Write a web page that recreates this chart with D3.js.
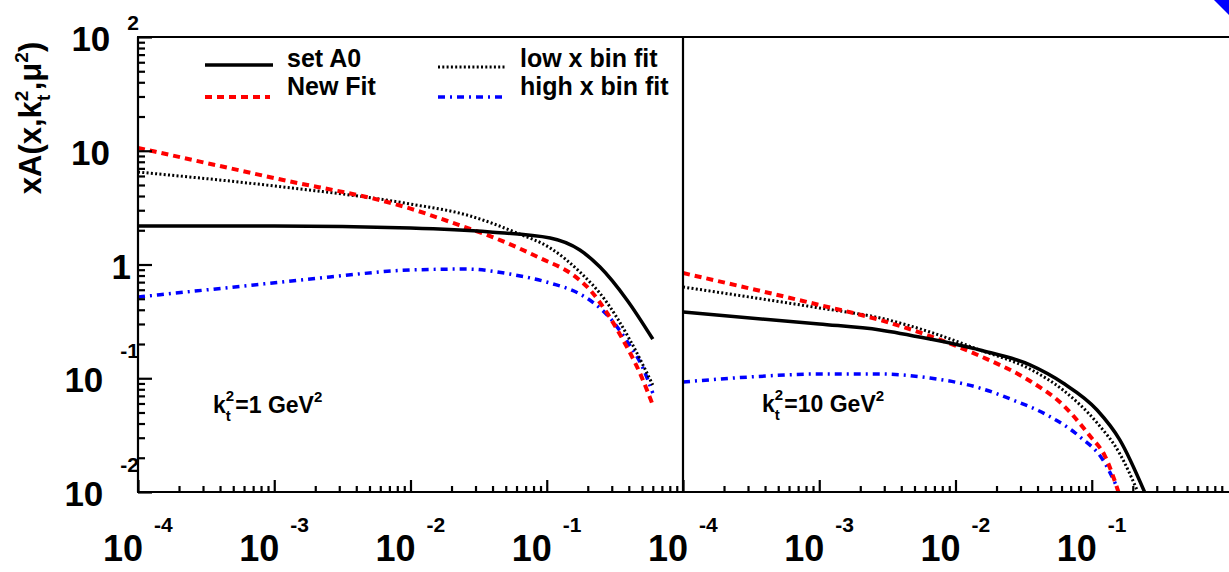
<!DOCTYPE html>
<html><head><meta charset="utf-8">
<script src="https://cdn.jsdelivr.net/npm/d3@7"></script>
<style>html,body{margin:0;padding:0;background:#fff;} svg{display:block;font-family:"Liberation Sans",Arial,Helvetica,sans-serif;}</style>
</head><body>
<svg id="chart" width="1229" height="572"></svg>
<script>
// ---------------- data ----------------
// panel k_t^2 = 1 GeV^2
const xA0_k1  = [1e-4, 1e-3, 1e-2, 0.0384, 0.106, 0.175, 0.246, 0.388, 0.6];
const yA0_k1  = [2.18, 2.18, 2.09, 1.93, 1.71, 1.34, 0.95, 0.488, 0.221];
const xNew_k1 = [1e-4, 1e-3, 1e-2, 0.0195, 0.0454, 0.0891, 0.156, 0.208, 0.277, 0.363, 0.483, 0.6];
const yNew_k1 = [10.6, 5.75, 3.1, 2.37, 1.64, 1.14, 0.809, 0.597, 0.375, 0.217, 0.111, 0.0582];
const xLow_k1 = [1e-4, 1e-3, 1e-2, 0.026, 0.0605, 0.1057, 0.175, 0.268, 0.408, 0.6];
const yLow_k1 = [6.5, 4.9, 3.4, 2.72, 1.89, 1.40, 0.859, 0.488, 0.217, 0.0873];
const xHigh_k1 = [1e-4, 8.26e-4, 2.56e-3, 1e-2, 0.026, 0.0537, 0.1057, 0.175, 0.226, 0.291, 0.388, 0.508, 0.6];
const yHigh_k1 = [0.518, 0.674, 0.777, 0.895, 0.912, 0.824, 0.687, 0.551, 0.450, 0.339, 0.212, 0.123, 0.0741];
// panel k_t^2 = 10 GeV^2
const xA0_k10  = [1e-4, 1e-3, 2.79e-3, 6.5e-3, 0.0151, 0.0352, 0.0615, 0.1094, 0.161, 0.246];
const yA0_k10  = [0.382, 0.300, 0.266, 0.221, 0.177, 0.131, 0.0908, 0.0526, 0.0286, 0.0098];
const xNew_k10 = [1e-4, 1e-3, 2.79e-3, 6.5e-3, 0.0151, 0.0352, 0.0615, 0.0971, 0.125, 0.158];
const yNew_k10 = [0.841, 0.441, 0.325, 0.235, 0.157, 0.0946, 0.0582, 0.0310, 0.0207, 0.0098];
const xLow_k10 = [1e-4, 1e-3, 2.79e-3, 6.5e-3, 0.0151, 0.0352, 0.0615, 0.1094, 0.161, 0.215];
const yLow_k10 = [0.634, 0.415, 0.339, 0.255, 0.177, 0.1205, 0.0788, 0.0405, 0.0216, 0.0104];
const xHigh_k10 = [1e-4, 3.1e-4, 1e-3, 2.79e-3, 6.5e-3, 0.0151, 0.0264, 0.047, 0.082, 0.121, 0.153];
const yHigh_k10 = [0.0927, 0.1026, 0.109, 0.109, 0.1005, 0.082, 0.0644, 0.0475, 0.0305, 0.0191, 0.0111];

const seriesNames = ["set A0", "New Fit", "low x bin fit", "high x bin fit"];
const panelLabels = ["=1 GeV", "=10 GeV"];
const xTickValues = [1e-4, 1e-3, 1e-2, 1e-1];
const xTickExps = ["-4", "-3", "-2", "-1"];
const yTickValues = [0.01, 0.1, 1, 10, 100];
const yTickBases = ["10", "10", "1", "10", "10"];
const yTickExps = ["-2", "-1", "", "", "2"];

// ---------------- layout ----------------
const svg = d3.select("#chart");
const yTop = 37, yBot = 492;
const yScale = d3.scaleLog().domain([0.01, 100]).range([yBot, yTop]);
const xLeft = d3.scaleLog().domain([1e-4, 1]).range([138, 683]);
const xRight = d3.scaleLog().domain([1e-4, 1]).range([683, 1228]);

const styles = [
  {color: "#000", width: 3.5, dash: null},
  {color: "#ff0000", width: 4, dash: "7,5"},
  {color: "#000", width: 3, dash: "2,2.3"},
  {color: "#0000ff", width: 3.5, dash: "7,5,2,5"}
];

function minorTicks(lo, hi) {
  const out = [];
  for (let d = lo; d < hi; d++) for (let m = 2; m <= 9; m++) out.push(m * Math.pow(10, d));
  return out;
}

// clip paths
const defs = svg.append("defs");
defs.append("clipPath").attr("id", "clipL").append("rect")
  .attr("x", 138).attr("y", yTop).attr("width", 545).attr("height", yBot - yTop);
defs.append("clipPath").attr("id", "clipR").append("rect")
  .attr("x", 683).attr("y", yTop).attr("width", 560).attr("height", yBot - yTop);

// curves
const panels = [
  {x: xLeft, clip: "clipL", data: [[xA0_k1, yA0_k1], [xNew_k1, yNew_k1], [xLow_k1, yLow_k1], [xHigh_k1, yHigh_k1]]},
  {x: xRight, clip: "clipR", data: [[xA0_k10, yA0_k10], [xNew_k10, yNew_k10], [xLow_k10, yLow_k10], [xHigh_k10, yHigh_k10]]}
];
panels.forEach(p => {
  const g = svg.append("g").attr("clip-path", `url(#${p.clip})`);
  const line = d3.line().x(d => p.x(d[0])).y(d => yScale(d[1])).curve(d3.curveMonotoneX);
  [3, 2, 1, 0].forEach(i => {
    const [xs, ys] = p.data[i];
    const pts = xs.map((x, k) => [x, ys[k]]);
    g.append("path").attr("d", line(pts)).attr("fill", "none")
      .attr("stroke", styles[i].color).attr("stroke-width", styles[i].width)
      .attr("stroke-dasharray", styles[i].dash);
  });
});

// x axes (ticks inside)
[xLeft, xRight].forEach(xs => {
  const gMin = svg.append("g").attr("transform", `translate(0,${yBot})`)
    .call(d3.axisBottom(xs).tickValues(minorTicks(-4, 0)).tickSize(-6).tickFormat(""));
  const gMaj = svg.append("g").attr("transform", `translate(0,${yBot})`)
    .call(d3.axisBottom(xs).tickValues(xTickValues).tickSize(-12).tickFormat(""));
  [gMin, gMaj].forEach(g => {
    g.select(".domain").remove();
    g.selectAll("line").attr("stroke", "#000").attr("stroke-width", 2.2);
  });
  xTickValues.forEach((v, i) => {
    const px = xs(v);
    svg.append("text").attr("x", px + 5).attr("y", 561).attr("text-anchor", "end")
      .attr("font-size", 36).attr("font-weight", "bold").text("10");
    svg.append("text").attr("x", px + 16).attr("y", 532).attr("text-anchor", "start")
      .attr("font-size", 21).attr("font-weight", "bold").text(xTickExps[i]);
  });
});

// y axis (left)
{
  const gMin = svg.append("g").attr("transform", `translate(138,0)`)
    .call(d3.axisLeft(yScale).tickValues(minorTicks(-2, 2)).tickSize(-7).tickFormat(""));
  const gMaj = svg.append("g").attr("transform", `translate(138,0)`)
    .call(d3.axisLeft(yScale).tickValues(yTickValues).tickSize(-14).tickFormat(""));
  [gMin, gMaj].forEach(g => {
    g.select(".domain").remove();
    g.selectAll("line").attr("stroke", "#000").attr("stroke-width", 2.2);
  });
  yTickValues.forEach((v, i) => {
    const py = yScale(v);
    const exp = yTickExps[i];
    if (exp) {
      const eText = svg.append("text").attr("x", 139).attr("y", py + (i === yTickValues.length - 1 ? -7 : -20))
        .attr("text-anchor", "end").attr("font-size", 21).attr("font-weight", "bold").text(exp);
      const w = eText.node().getComputedTextLength();
      svg.append("text").attr("x", 139 - w - 17).attr("y", py + 14).attr("text-anchor", "end")
        .attr("font-size", 35).attr("font-weight", "bold").text(yTickBases[i]);
    } else {
      svg.append("text").attr("x", yTickBases[i].length > 1 ? 110 : 131).attr("y", py + 14)
        .attr("text-anchor", "end").attr("font-size", 35).attr("font-weight", "bold").text(yTickBases[i]);
    }
  });
}

// frames
const frame = svg.append("g").attr("stroke", "#000").attr("stroke-width", 2.2);
frame.append("line").attr("x1", 137).attr("x2", 1229).attr("y1", yTop).attr("y2", yTop);
frame.append("line").attr("x1", 137).attr("x2", 1229).attr("y1", yBot).attr("y2", yBot);
frame.append("line").attr("x1", 138).attr("x2", 138).attr("y1", yTop).attr("y2", yBot);
frame.append("line").attr("x1", 683).attr("x2", 683).attr("y1", yTop).attr("y2", yBot);

// y title
{
  const t = svg.append("text").attr("transform", "translate(41,118) rotate(-90)")
    .attr("text-anchor", "middle").attr("font-size", 31).attr("font-weight", "bold");
  t.append("tspan").text("xA(x,k");
  t.append("tspan").attr("font-size", 19).attr("dy", -13).text("2");
  t.append("tspan").attr("font-size", 19).attr("dx", -10.5).attr("dy", 22).text("t");
  t.append("tspan").attr("dx", 4.5).attr("dy", -9).text(",\u03bc");
  t.append("tspan").attr("font-size", 19).attr("dy", -13).text("2");
  t.append("tspan").attr("dy", 13).text(")");
}

// legend
{
  const lx = [[205, 273], [205, 270], [438, 505], [438, 505]];
  const ly = [65, 97, 67, 97];
  const tx = [287, 287, 520, 520];
  const ty = [67, 95, 67, 95];
  seriesNames.forEach((name, i) => {
    svg.append("line").attr("x1", lx[i][0]).attr("x2", lx[i][1]).attr("y1", ly[i]).attr("y2", ly[i])
      .attr("stroke", styles[i].color).attr("stroke-width", styles[i].width)
      .attr("stroke-dasharray", styles[i].dash);
    svg.append("text").attr("x", tx[i]).attr("y", ty[i]).attr("font-size", 25)
      .attr("font-weight", "bold").text(name);
  });
}

// panel labels
[[213, 413], [762, 412]].forEach((pos, i) => {
  const t = svg.append("text").attr("x", pos[0]).attr("y", pos[1])
    .attr("font-size", 23).attr("font-weight", "bold");
  t.append("tspan").text("k");
  t.append("tspan").attr("font-size", 15).attr("dy", -12).text("2");
  t.append("tspan").attr("font-size", 15).attr("dx", -8.3).attr("dy", 19.5).text("t");
  t.append("tspan").attr("dx", 4.5).attr("dy", -7.5).text(panelLabels[i]);
  t.append("tspan").attr("font-size", 15).attr("dy", -11).text("2");
});

// corner mark
svg.append("polygon").attr("points", "1214,0 1229,0 1229,15").attr("fill", "#0000ff");
</script>
</body></html>
